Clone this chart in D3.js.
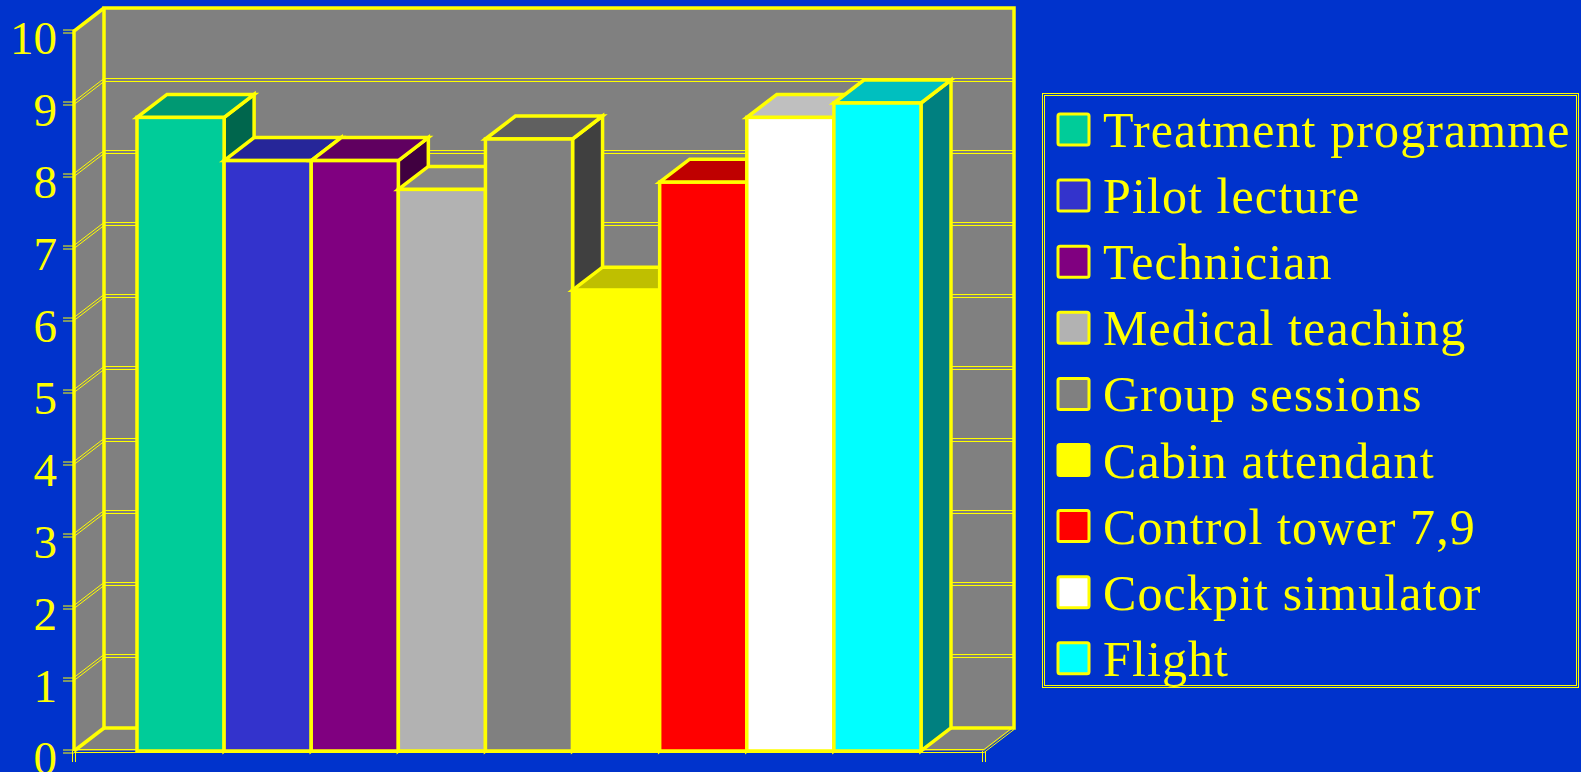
<!DOCTYPE html>
<html>
<head>
<meta charset="utf-8">
<script src="https://cdn.jsdelivr.net/npm/d3@7"></script>
<style>
  html, body { margin: 0; padding: 0; background: #0033CC; }
  svg { display: block; }
  text { font-family: "Liberation Serif", "Times New Roman", serif; fill: #FFFF00; }
</style>
</head>
<body>
<svg id="chart" width="1581" height="772"></svg>
<script>
// Series shown as adjacent 3D columns
const series = ["Treatment programme", "Pilot lecture", "Technician", "Medical teaching",
                "Group sessions", "Cabin attendant", "Control tower 7,9", "Cockpit simulator", "Flight"];
const values = [8.8, 8.2, 8.2, 7.8, 8.5, 6.4, 7.9, 8.8, 9.0];
const colors = ["#00CC99", "#3333CC", "#800080", "#B2B2B2", "#808080",
                "#FFFF00", "#FF0000", "#FFFFFF", "#00FFFF"];
const yTicks = [0, 1, 2, 3, 4, 5, 6, 7, 8, 9, 10];

const YEL = "#FFFF00", WALL = "#808080";
const svg = d3.select("#chart");

// Front plane of the plot box and the depth offset of the 3D box
const x0 = 74, x1 = 984, dx = 30, dy = -23;
const y = d3.scaleLinear().domain([0, 10]).range([751, 31]);
const xb = d3.scaleBand().domain(series).range([137, 921]).paddingInner(0).paddingOuter(0);

const shade = (c, k) => { const r = d3.rgb(c); return d3.rgb(r.r * k, r.g * k, r.b * k).formatHex(); };
const pts = a => a.map(p => p.join(",")).join(" ");

// Walls
const yb = y(0), yt = y(10);
svg.append("rect").attr("x", x0 + dx).attr("y", yt + dy).attr("width", x1 - x0).attr("height", yb - yt)
  .attr("fill", WALL);
svg.append("polygon").attr("points", pts([[x0, yb], [x0, yt], [x0 + dx, yt + dy], [x0 + dx, yb + dy]]))
  .attr("fill", WALL);
svg.append("polygon").attr("points", pts([[x0, yb], [x0 + dx, yb + dy], [x1 + dx, yb + dy], [x1, yb]]))
  .attr("fill", WALL);

// Double gridlines across side wall and back wall (half-pixel offsets keep them crisp)
const grid = svg.append("g").attr("fill", "none").attr("stroke", YEL).attr("stroke-width", 1);
yTicks.filter(t => t > 0 && t < 10).forEach(t => {
  [-1.5, 1.5].forEach(o => {
    const yy = y(t) + o;
    grid.append("path").attr("d", `M${x0},${yy}L${x0 + dx},${yy + dy}L${x1 + dx},${yy + dy}`);
  });
});

// Thin double floor edges (front and right)
[-1.5, 1.5].forEach(o => {
  grid.append("path").attr("d", `M${x0},${yb + o}L${x1},${yb + o}L${x1 + dx},${yb + dy + o}`);
});

// Heavy wall outlines
const edges = svg.append("g").attr("fill", "none").attr("stroke", YEL).attr("stroke-width", 3.5)
  .attr("stroke-linejoin", "miter");
edges.append("rect").attr("x", x0 + dx).attr("y", yt + dy).attr("width", x1 - x0).attr("height", yb - yt);
edges.append("path").attr("d", `M${x0},${yb}L${x0},${yt}L${x0 + dx},${yt + dy}`);
edges.append("path").attr("d", `M${x0},${yb}L${x0 + dx},${yb + dy}`);

// Y axis with double tick marks
const axis = d3.axisLeft(y).tickValues(yTicks).tickSize(11).tickPadding(6).tickFormat(d3.format("d"));
const ax = svg.append("g").attr("transform", `translate(${x0},0)`).call(axis);
ax.select(".domain").remove();
ax.selectAll(".tick line").remove();
ax.selectAll(".tick").each(function () {
  const g = d3.select(this);
  [-1.5, 1.5].forEach(o => g.append("line").attr("x1", -11).attr("x2", 0).attr("y1", o).attr("y2", o)
    .attr("stroke", YEL).attr("stroke-width", 1));
});
ax.selectAll(".tick text").attr("font-size", 47).attr("dy", "0.47em")
  .attr("font-family", "'Liberation Serif', 'Times New Roman', serif").attr("fill", YEL);

// Category boundary ticks under the floor
[x0, x1].forEach(xx => {
  [-1.5, 1.5].forEach(o => svg.append("line").attr("x1", xx + o).attr("x2", xx + o)
    .attr("y1", yb).attr("y2", yb + 11).attr("stroke", YEL).attr("stroke-width", 1));
});

// Columns, drawn left to right so each one covers its neighbour's hidden side
const bars = svg.append("g").attr("stroke", YEL).attr("stroke-width", 3.5).attr("stroke-linejoin", "miter");
series.forEach((s, i) => {
  const L = xb(s), R = L + xb.bandwidth(), T = y(values[i]);
  const g = bars.append("g");
  g.append("polygon").attr("points", pts([[R, T], [R + dx, T + dy], [R + dx, yb + dy], [R, yb]]))
    .attr("fill", shade(colors[i], 0.5));
  g.append("polygon").attr("points", pts([[L, T], [L + dx, T + dy], [R + dx, T + dy], [R, T]]))
    .attr("fill", shade(colors[i], 0.75));
  g.append("rect").attr("x", L).attr("y", T).attr("width", R - L).attr("height", yb - T)
    .attr("fill", colors[i]);
});

// Legend
const lg = svg.append("g");
lg.append("rect").attr("x", 1042.5).attr("y", 93.5).attr("width", 536).attr("height", 594)
  .attr("fill", "none").attr("stroke", YEL).attr("stroke-width", 1);
lg.append("rect").attr("x", 1044.5).attr("y", 95.5).attr("width", 532).attr("height", 590)
  .attr("fill", "none").attr("stroke", YEL).attr("stroke-width", 1);
series.forEach((s, i) => {
  const top = 113 + i * 66.1;
  lg.append("rect").attr("x", 1058).attr("y", top + 1).attr("width", 31).attr("height", 31).attr("rx", 2)
    .attr("fill", colors[i]).attr("stroke", YEL).attr("stroke-width", 3);
  lg.append("text").attr("x", 1103).attr("y", top + 34).attr("font-size", 50)
    .attr("letter-spacing", "1.1px").text(s);
});
</script>
</body>
</html>
